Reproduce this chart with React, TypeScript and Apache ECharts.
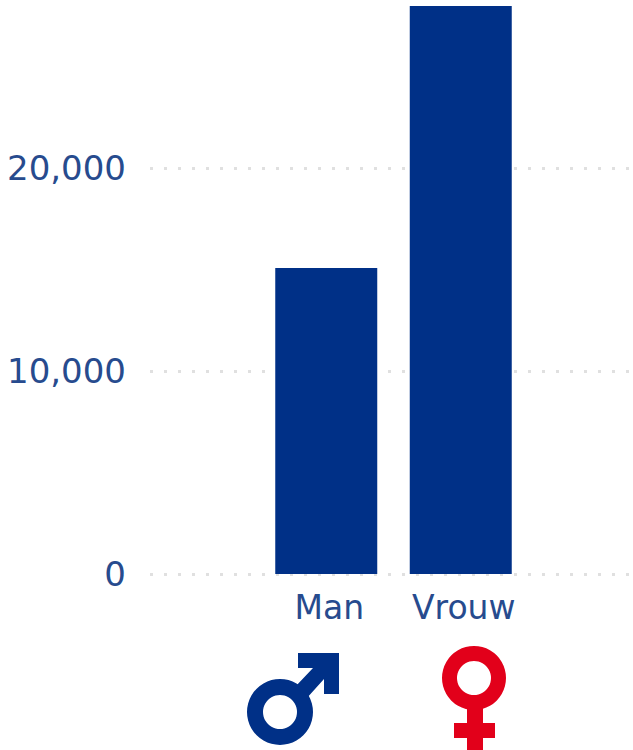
import React, { useEffect, useRef } from "react";
import * as echarts from "echarts";

const categories = ["Man", "Vrouw"];
const values = [15080, 27980];
const yTicks = [0, 10000, 20000];
const BLUE = "#003087";
const TEXT = "#274b8e";
const RED = "#e2001a";
const FONT = "'DejaVu Sans', Verdana, sans-serif";

export default function App() {
  const ref = useRef<HTMLDivElement>(null);
  useEffect(() => {
    const chart = echarts.init(ref.current!, undefined, { renderer: "svg" });
    const yMax = 28276;
    const yBase = {
      type: "value" as const,
      min: 0,
      max: yMax,
      interval: 10000,
    };
    chart.setOption({
      animation: false,
      backgroundColor: "#ffffff",
      grid: [
        { left: 150, width: 483, top: 0, height: 574 },
        { left: 259, width: 269, top: 0, height: 574 },
      ],
      xAxis: [
        { type: "category", gridIndex: 0, data: categories, show: false },
        {
          type: "category",
          gridIndex: 1,
          data: categories,
          axisLine: { show: false },
          axisTick: { show: false },
          axisLabel: {
            color: TEXT,
            fontFamily: FONT,
            fontSize: 33,
            margin: 17,
            interval: 0,
            padding: [0, 0, 0, 6],
          },
        },
      ],
      yAxis: [
        {
          ...yBase,
          gridIndex: 0,
          axisLine: { show: false },
          axisTick: { show: false },
          axisLabel: {
            color: TEXT,
            fontFamily: FONT,
            fontSize: 34,
            margin: 24,
            customValues: yTicks,
            formatter: (v: number) => v.toLocaleString("en-US"),
          },
          splitLine: {
            show: true,
            showMaxLine: false,
            lineStyle: { color: "#e0e0e0", width: 3, type: [3, 11] },
          },
        },
        { ...yBase, gridIndex: 1, show: false, splitLine: { show: false } },
      ],
      series: [
        {
          type: "bar",
          xAxisIndex: 1,
          yAxisIndex: 1,
          data: values,
          barWidth: 102,
          itemStyle: { color: BLUE },
        },
      ],
      graphic: [
        { type: "ring", shape: { cx: 280, cy: 712, r: 33, r0: 17 }, style: { fill: BLUE } },
        {
          type: "polygon",
          shape: {
            points: [
              [298, 653], [339, 653], [339, 694], [324, 694], [324, 679],
              [306, 699], [295, 687], [313, 668], [298, 668],
            ],
          },
          style: { fill: BLUE },
        },
        { type: "ring", shape: { cx: 474, cy: 678, r: 32, r0: 17 }, style: { fill: RED } },
        { type: "rect", shape: { x: 467, y: 706, width: 16, height: 44 }, style: { fill: RED } },
        { type: "rect", shape: { x: 454, y: 723, width: 41, height: 15 }, style: { fill: RED } },
      ],
    });
    return () => chart.dispose();
  }, []);
  return (
    <div
      ref={ref}
      style={{ position: "absolute", left: 0, top: 0, width: 633, height: 750 }}
    />
  );
}
